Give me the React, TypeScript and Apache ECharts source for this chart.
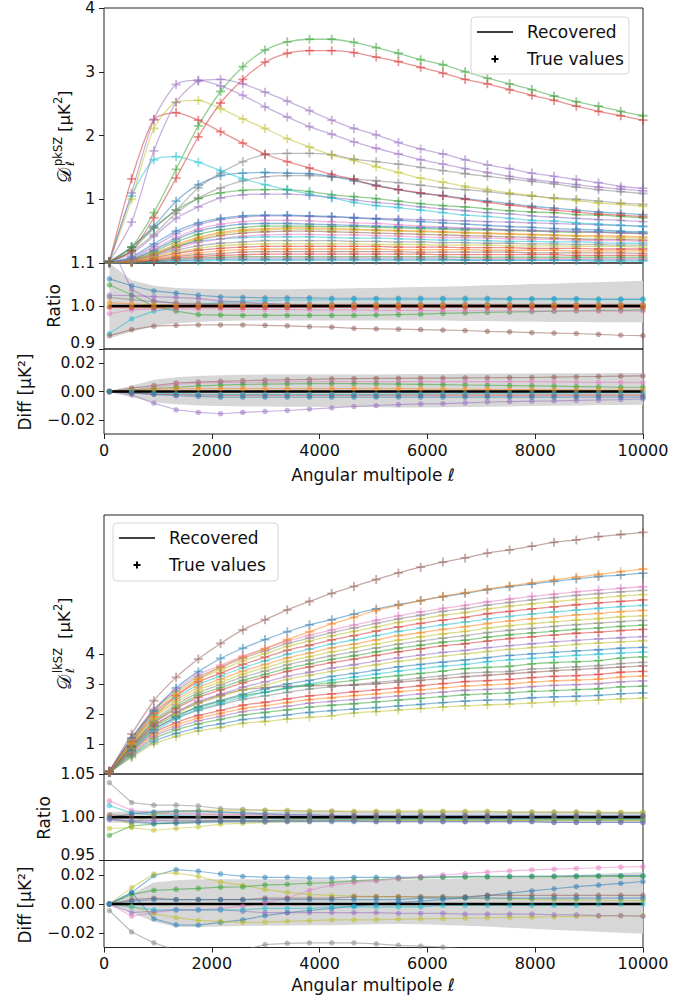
import React, { useEffect, useRef } from "react";
import * as echarts from "echarts";

// multipoles (x values shared by every series)
const ells = [100, 512.5, 925, 1337.5, 1750, 2162.5, 2575, 2987.5, 3400, 3812.5, 4225, 4637.5, 5050, 5462.5, 5875, 6287.5, 6700, 7112.5, 7525, 7937.5, 8350, 8762.5, 9175, 9587.5, 10000];

// ---------- top figure : patchy kSZ ----------
const tmGreenA = [0.02,0.25,0.79,1.47,2.15,2.69,3.08,3.34,3.47,3.51,3.51,3.46,3.38,3.29,3.19,3.11,3.00,2.90,2.81,2.72,2.62,2.53,2.46,2.38,2.31];
const tmRedA = [0.02,0.19,0.71,1.33,1.98,2.51,2.88,3.15,3.29,3.33,3.33,3.30,3.23,3.16,3.07,2.98,2.88,2.81,2.72,2.63,2.55,2.46,2.38,2.31,2.24];
const tmPurpleA = [0.02,0.64,1.76,2.52,2.85,2.88,2.81,2.68,2.54,2.39,2.24,2.11,2.01,1.89,1.79,1.71,1.62,1.54,1.48,1.41,1.36,1.31,1.26,1.20,1.17];
const tmPurpleB = [0.02,1.10,2.25,2.80,2.87,2.78,2.63,2.45,2.29,2.14,2.02,1.90,1.80,1.71,1.62,1.55,1.48,1.42,1.36,1.31,1.27,1.23,1.19,1.16,1.13];
const tmOliveA = [0.02,1.00,2.11,2.52,2.55,2.42,2.26,2.11,1.95,1.82,1.69,1.61,1.51,1.42,1.33,1.27,1.20,1.15,1.10,1.06,1.01,0.98,0.94,0.92,0.89];
const tmRedB = [0.02,1.32,2.25,2.36,2.24,2.06,1.88,1.71,1.59,1.49,1.39,1.31,1.21,1.15,1.10,1.05,1.00,0.95,0.91,0.87,0.83,0.80,0.77,0.75,0.73];
const tmCyanA = [0.02,1.05,1.62,1.67,1.58,1.45,1.32,1.23,1.15,1.08,1.02,0.95,0.90,0.87,0.83,0.79,0.75,0.73,0.70,0.67,0.66,0.63,0.61,0.59,0.57];
const tmGrayA = [0.02,0.25,0.55,0.83,1.18,1.41,1.59,1.70,1.72,1.72,1.70,1.63,1.59,1.55,1.50,1.45,1.40,1.36,1.32,1.28,1.24,1.19,1.15,1.12,1.09];
const tmBlueA = [0.02,0.25,0.58,0.97,1.23,1.37,1.41,1.42,1.41,1.40,1.36,1.29,1.22,1.15,1.09,1.06,1.01,0.97,0.93,0.89,0.86,0.83,0.80,0.78,0.76];
const tmGrayB = [0.02,0.18,0.45,0.78,1.02,1.18,1.29,1.35,1.37,1.37,1.35,1.32,1.29,1.26,1.22,1.18,1.15,1.12,1.08,1.05,1.02,1.00,0.97,0.94,0.92];
const tmGreenB = [0.02,0.20,0.55,0.83,1.01,1.10,1.14,1.15,1.15,1.12,1.07,1.04,1.01,0.97,0.93,0.90,0.88,0.85,0.82,0.80,0.79,0.76,0.75,0.73,0.71];
const tmPurpleC = [0.02,0.15,0.42,0.70,0.88,1.02,1.07,1.08,1.08,1.06,1.03,0.99,0.95,0.92,0.88,0.85,0.82,0.79,0.77,0.74,0.72,0.70,0.68,0.67,0.65];
const tmBlueB = [0.01,0.10,0.30,0.50,0.63,0.70,0.74,0.75,0.75,0.74,0.73,0.71,0.69,0.67,0.65,0.63,0.61,0.59,0.57,0.56,0.54,0.53,0.52,0.50,0.49];
const tmPurpleD = [0.01,0.08,0.26,0.46,0.60,0.68,0.72,0.74,0.74,0.73,0.72,0.71,0.70,0.69,0.68,0.67,0.66,0.65,0.64,0.63,0.62,0.61,0.60,0.59,0.58];
const tmPinkA = [0.01,0.07,0.22,0.40,0.53,0.61,0.65,0.67,0.67,0.66,0.65,0.63,0.62,0.60,0.58,0.57,0.55,0.54,0.52,0.51,0.50,0.49,0.48,0.47,0.46];
const tmBlueC = [0.01,0.06,0.20,0.37,0.50,0.57,0.61,0.62,0.62,0.61,0.60,0.59,0.58,0.57,0.56,0.55,0.54,0.53,0.52,0.51,0.50,0.50,0.49,0.48,0.47];
const tmGreenC = [0.01,0.06,0.18,0.33,0.45,0.52,0.56,0.58,0.58,0.58,0.57,0.57,0.56,0.55,0.54,0.53,0.52,0.52,0.51,0.50,0.49,0.48,0.48,0.47,0.46];
const tmOrangeA = [0.01,0.05,0.15,0.29,0.40,0.48,0.52,0.54,0.55,0.55,0.54,0.53,0.52,0.51,0.50,0.49,0.48,0.47,0.46,0.45,0.44,0.43,0.43,0.42,0.41];
const tmOliveB = [0.01,0.05,0.14,0.27,0.38,0.46,0.50,0.52,0.53,0.53,0.52,0.52,0.51,0.50,0.49,0.48,0.47,0.46,0.45,0.44,0.43,0.42,0.41,0.40,0.39];
const tmBrownA = [0.01,0.04,0.13,0.25,0.36,0.43,0.47,0.49,0.50,0.50,0.49,0.48,0.47,0.46,0.45,0.44,0.43,0.42,0.41,0.40,0.39,0.38,0.37,0.37,0.36];
const tmPinkB = [0.01,0.04,0.12,0.23,0.32,0.38,0.42,0.44,0.45,0.45,0.44,0.44,0.43,0.42,0.41,0.40,0.40,0.39,0.38,0.37,0.37,0.36,0.35,0.35,0.34];
const tmCyanB = [0.01,0.05,0.15,0.26,0.34,0.38,0.40,0.41,0.41,0.41,0.40,0.39,0.39,0.38,0.37,0.36,0.36,0.35,0.34,0.34,0.33,0.33,0.32,0.31,0.31];
const tmGrayC = [0.01,0.04,0.11,0.20,0.27,0.31,0.33,0.35,0.35,0.35,0.35,0.34,0.34,0.33,0.33,0.32,0.32,0.31,0.31,0.30,0.30,0.29,0.29,0.28,0.28];
const tmOliveC = [0.01,0.03,0.09,0.17,0.23,0.27,0.29,0.30,0.30,0.30,0.30,0.30,0.29,0.29,0.29,0.28,0.28,0.28,0.27,0.27,0.27,0.26,0.26,0.26,0.25];
const tmRedC = [0.01,0.03,0.08,0.15,0.20,0.23,0.25,0.26,0.26,0.26,0.26,0.26,0.26,0.25,0.25,0.25,0.24,0.24,0.24,0.23,0.23,0.23,0.22,0.22,0.22];
const tmOrangeB = [0.01,0.02,0.07,0.12,0.16,0.19,0.21,0.22,0.22,0.22,0.22,0.22,0.22,0.21,0.21,0.21,0.21,0.20,0.20,0.20,0.20,0.19,0.19,0.19,0.19];
const tmBrownB = [0.01,0.02,0.05,0.10,0.13,0.15,0.17,0.18,0.18,0.18,0.18,0.18,0.18,0.18,0.17,0.17,0.17,0.17,0.17,0.16,0.16,0.16,0.16,0.16,0.15];
const tmRedD = [0.01,0.02,0.04,0.08,0.10,0.12,0.13,0.14,0.14,0.14,0.14,0.14,0.14,0.14,0.14,0.13,0.13,0.13,0.13,0.13,0.13,0.12,0.12,0.12,0.12];
const tmGreenD = [0.00,0.01,0.03,0.06,0.08,0.09,0.10,0.10,0.10,0.10,0.10,0.10,0.10,0.10,0.10,0.10,0.09,0.09,0.09,0.09,0.09,0.09,0.09,0.09,0.09];
const tmPinkC = [0.00,0.01,0.03,0.05,0.07,0.08,0.08,0.08,0.08,0.08,0.08,0.08,0.08,0.08,0.08,0.08,0.08,0.07,0.07,0.07,0.07,0.07,0.07,0.07,0.07];
const tmBlueD = [0.00,0.01,0.02,0.04,0.05,0.06,0.06,0.06,0.06,0.06,0.06,0.06,0.06,0.06,0.06,0.06,0.05,0.05,0.05,0.05,0.05,0.05,0.05,0.05,0.05];
const tmCyanC = [0.00,0.01,0.02,0.03,0.03,0.04,0.04,0.04,0.04,0.04,0.04,0.04,0.04,0.04,0.04,0.04,0.04,0.04,0.04,0.04,0.04,0.04,0.03,0.03,0.03];

const trBand = {
  lo: [0.925,0.94,0.953,0.96,0.963,0.965,0.966,0.966,0.966,0.966,0.966,0.966,0.966,0.966,0.966,0.966,0.965,0.965,0.964,0.964,0.963,0.963,0.962,0.962,0.962],
  hi: [1.10,1.06,1.047,1.042,1.040,1.039,1.039,1.039,1.039,1.040,1.040,1.041,1.042,1.043,1.044,1.045,1.046,1.048,1.049,1.051,1.052,1.054,1.055,1.057,1.059],
};
const trBlue = [1.063,1.047,1.035,1.030,1.025,1.021,1.020,1.019,1.019,1.019,1.018,1.018,1.018,1.018,1.018,1.018,1.018,1.018,1.017,1.017,1.017,1.017,1.016,1.016,1.016];
const trGreen = [1.049,1.026,0.999,0.988,0.980,0.979,0.978,0.978,0.978,0.978,0.978,0.978,0.979,0.980,0.981,0.983,0.984,0.985,0.986,0.987,0.988,0.989,0.990,0.990,0.991];
const trCyan = [0.936,0.970,0.988,0.995,1.003,1.008,1.011,1.013,1.014,1.014,1.015,1.015,1.015,1.015,1.015,1.015,1.015,1.015,1.015,1.015,1.015,1.015,1.015,1.015,1.015];
const trBrown = [0.931,0.945,0.953,0.955,0.956,0.956,0.956,0.955,0.954,0.952,0.951,0.948,0.947,0.946,0.945,0.944,0.943,0.941,0.940,0.938,0.937,0.936,0.934,0.932,0.931];
const trPink = [0.982,0.991,0.993,0.993,0.993,0.993,0.992,0.992,0.992,0.991,0.991,0.991,0.990,0.990,0.990,0.989,0.989,0.989,0.989,0.988,0.988,0.988,0.988,0.988,0.988];
const trPurpleA = [1.15,1.038,1.012,1.006,1.004,1.003,1.003,1.002,1.002,1.002,1.002,1.002,1.002,1.002,1.002,1.002,1.002,1.002,1.001,1.001,1.001,1.001,1.001,1.001,1.001];
const trPurpleB = [1.025,1.024,1.022,1.020,1.017,1.012,1.009,1.006,1.004,1.003,1.002,1.002,1.002,1.002,1.002,1.002,1.002,1.002,1.002,1.002,1.002,1.002,1.002,1.002,1.002];
const trGray = [1.02,1.015,1.010,1.007,1.006,1.005,1.005,1.005,1.004,1.004,1.004,1.004,1.004,1.004,1.004,1.004,1.004,1.004,1.004,1.004,1.004,1.004,1.004,1.004,1.004];
const trOrange = [1.008,1.005,1.003,1.002,1.002,1.002,1.002,1.002,1.002,1.002,1.002,1.002,1.002,1.002,1.002,1.002,1.002,1.002,1.002,1.002,1.002,1.002,1.002,1.002,1.002];
const trOlive = [1.0,0.998,0.997,0.998,0.998,0.999,0.999,0.999,0.999,0.999,0.999,0.999,0.999,0.999,0.999,0.999,0.999,0.999,0.999,0.999,0.999,0.999,0.999,0.999,0.999];
const trRed = [0.997,0.996,0.996,0.997,0.997,0.997,0.997,0.997,0.997,0.997,0.997,0.997,0.997,0.997,0.997,0.997,0.997,0.997,0.997,0.997,0.997,0.997,0.997,0.997,0.997];

const tdBand = {
  lo: [-0.0005,-0.004,-0.0075,-0.009,-0.0099,-0.0103,-0.0105,-0.0106,-0.0107,-0.0108,-0.011,-0.011,-0.0112,-0.0113,-0.0113,-0.0112,-0.011,-0.0108,-0.0105,-0.0102,-0.010,-0.0098,-0.0096,-0.0095,-0.0094],
  hi: [0.0005,0.004,0.0083,0.010,0.011,0.0115,0.0118,0.012,0.012,0.012,0.012,0.012,0.012,0.0122,0.0123,0.0124,0.0125,0.0126,0.0127,0.0127,0.0128,0.0128,0.0129,0.013,0.013],
};
const tdPurple = [0,-0.0023,-0.0082,-0.0129,-0.0148,-0.0157,-0.0148,-0.0141,-0.0134,-0.0125,-0.0115,-0.0106,-0.0099,-0.0092,-0.0088,-0.0085,-0.008,-0.0074,-0.0071,-0.0068,-0.0066,-0.0063,-0.006,-0.0057,-0.0052];
const tdBrown = [0,0.0024,0.0042,0.006,0.0066,0.0072,0.0076,0.008,0.0083,0.0086,0.0089,0.0091,0.0092,0.0093,0.0094,0.0095,0.0096,0.0097,0.0098,0.0099,0.0102,0.0104,0.0106,0.0108,0.011];
const tdPink = [0,0.001,0.003,0.005,0.006,0.0062,0.0064,0.0066,0.0068,0.007,0.007,0.007,0.007,0.007,0.007,0.007,0.007,0.007,0.007,0.007,0.0068,0.0066,0.0065,0.0064,0.0063];
const tdGreen = [0,0.001,0.002,0.003,0.004,0.0045,0.005,0.0052,0.0054,0.0055,0.0055,0.0055,0.0054,0.0052,0.005,0.0048,0.0046,0.0044,0.0042,0.004,0.0038,0.0035,0.0032,0.003,0.003];
const tdOrange = [0,0.001,0.0015,0.002,0.002,0.002,0.002,0.002,0.002,0.002,0.002,0.002,0.002,0.002,0.0018,0.0017,0.0016,0.0015,0.0014,0.0013,0.0012,0.0011,0.001,0.001,0.001];
const tdRed = [0,-0.001,-0.0018,-0.0022,-0.0024,-0.0025,-0.0025,-0.0025,-0.0025,-0.0025,-0.0025,-0.0025,-0.0025,-0.0025,-0.0025,-0.0025,-0.0025,-0.0025,-0.0025,-0.0025,-0.0025,-0.0025,-0.0025,-0.0025,-0.0025];
const tdCyan = [0,0,-0.001,-0.0015,-0.0018,-0.002,-0.002,-0.002,-0.002,-0.002,-0.002,-0.002,-0.002,-0.0018,-0.0017,-0.0016,-0.0015,-0.0014,-0.0013,-0.0012,-0.0012,-0.0011,-0.001,-0.001,-0.001];
const tdBlue = [0,-0.001,-0.002,-0.003,-0.0035,-0.004,-0.004,-0.004,-0.004,-0.004,-0.004,-0.004,-0.004,-0.004,-0.004,-0.004,-0.004,-0.004,-0.004,-0.004,-0.004,-0.004,-0.004,-0.004,-0.004];

// ---------- bottom figure : late-time kSZ ----------
const bmBrown = [0.09,1.33,2.44,3.22,3.83,4.35,4.80,5.14,5.47,5.75,6.02,6.25,6.48,6.70,6.89,7.06,7.20,7.36,7.47,7.59,7.72,7.80,7.91,7.98,8.05];
const bmOrange = [0.06,1.05,1.90,2.60,3.15,3.56,3.89,4.17,4.48,4.74,5.00,5.22,5.45,5.62,5.78,5.92,6.04,6.16,6.27,6.37,6.47,6.56,6.65,6.74,6.83];
const bmBlue = [0.07,1.20,2.10,2.87,3.41,3.85,4.19,4.48,4.74,4.97,5.14,5.33,5.50,5.64,5.78,5.91,6.02,6.14,6.24,6.33,6.42,6.50,6.58,6.63,6.69];
const bmPink = [0.09,1.19,2.18,2.81,3.31,3.62,3.93,4.18,4.43,4.62,4.80,4.96,5.12,5.27,5.40,5.52,5.62,5.74,5.83,5.92,5.99,6.07,6.13,6.19,6.24];
const bmGray = [0.09,1.16,2.14,2.75,3.24,3.55,3.86,4.10,4.35,4.53,4.71,4.87,5.02,5.17,5.29,5.42,5.51,5.63,5.72,5.80,5.88,5.95,6.01,6.07,6.12];
const bmOlive = [0.09,1.14,2.09,2.69,3.17,3.47,3.77,4.01,4.25,4.43,4.60,4.75,4.90,5.05,5.17,5.29,5.38,5.50,5.59,5.67,5.74,5.81,5.87,5.93,5.98];
const bmRed = [0.09,1.10,2.03,2.61,3.07,3.36,3.65,3.89,4.12,4.29,4.47,4.61,4.76,4.90,5.02,5.13,5.22,5.34,5.42,5.50,5.57,5.64,5.70,5.75,5.80];
const bmCyan = [0.08,1.07,1.97,2.53,2.98,3.26,3.54,3.77,3.99,4.16,4.33,4.47,4.61,4.75,4.86,4.97,5.06,5.17,5.25,5.33,5.40,5.46,5.52,5.58,5.62];
const bmOrangeB = [0.08,1.04,1.91,2.45,2.89,3.16,3.43,3.65,3.87,4.03,4.20,4.33,4.47,4.61,4.71,4.82,4.91,5.01,5.10,5.17,5.23,5.30,5.35,5.41,5.45];
const bmOliveB = [0.08,1.00,1.85,2.38,2.80,3.06,3.33,3.54,3.75,3.91,4.07,4.20,4.33,4.46,4.57,4.67,4.75,4.86,4.94,5.01,5.07,5.13,5.18,5.24,5.28];
const bmGrayB = [0.08,0.97,1.79,2.30,2.71,2.97,3.23,3.43,3.64,3.79,3.94,4.07,4.20,4.33,4.43,4.53,4.61,4.71,4.79,4.85,4.92,4.98,5.03,5.08,5.12];
const bmGreen = [0.07,0.94,1.74,2.23,2.63,2.88,3.12,3.32,3.52,3.67,3.82,3.94,4.07,4.19,4.29,4.39,4.46,4.56,4.64,4.70,4.76,4.82,4.87,4.92,4.96];
const bmRedB = [0.07,0.92,1.69,2.17,2.55,2.80,3.04,3.23,3.42,3.57,3.71,3.83,3.95,4.07,4.17,4.27,4.34,4.43,4.51,4.57,4.63,4.69,4.73,4.78,4.82];
const bmPurple = [0.07,0.87,1.60,2.06,2.43,2.66,2.89,3.07,3.25,3.39,3.53,3.64,3.76,3.87,3.96,4.05,4.12,4.21,4.28,4.34,4.40,4.45,4.50,4.54,4.58];
const bmOliveC = [0.07,0.84,1.55,2.00,2.35,2.58,2.80,2.97,3.15,3.29,3.42,3.53,3.64,3.75,3.84,3.93,4.00,4.08,4.15,4.21,4.26,4.32,4.36,4.40,4.44];
const bmBlueB = [0.06,0.80,1.48,1.90,2.24,2.45,2.66,2.83,3.00,3.12,3.25,3.35,3.46,3.57,3.65,3.73,3.80,3.88,3.95,4.00,4.05,4.10,4.14,4.19,4.22];
const bmCyanB = [0.06,0.77,1.42,1.83,2.15,2.35,2.56,2.72,2.88,3.00,3.13,3.23,3.33,3.43,3.51,3.59,3.65,3.74,3.80,3.85,3.90,3.95,3.99,4.03,4.06];
const bmGreenB = [0.08,0.86,1.56,1.95,2.22,2.42,2.61,2.73,2.85,2.96,3.04,3.12,3.20,3.28,3.35,3.43,3.51,3.55,3.59,3.67,3.71,3.74,3.78,3.86,3.90];
const bmGrayC = [0.07,0.82,1.49,1.86,2.12,2.31,2.49,2.60,2.72,2.83,2.90,2.98,3.05,3.12,3.20,3.27,3.35,3.39,3.42,3.50,3.53,3.57,3.61,3.68,3.72];
const bmBrownB = [0.07,0.90,1.62,2.05,2.38,2.62,2.80,2.88,2.92,2.94,2.95,2.96,3.00,3.06,3.12,3.18,3.24,3.29,3.34,3.39,3.44,3.48,3.52,3.56,3.60];
const bmRedC = [0.07,0.75,1.37,1.71,1.95,2.12,2.29,2.39,2.50,2.60,2.67,2.74,2.80,2.87,2.94,3.01,3.08,3.11,3.15,3.21,3.25,3.28,3.32,3.39,3.42];
const bmOrangeC = [0.07,0.72,1.30,1.63,1.86,2.02,2.18,2.28,2.38,2.48,2.54,2.61,2.67,2.74,2.80,2.87,2.93,2.97,3.00,3.06,3.10,3.13,3.16,3.23,3.26];
const bmPurpleB = [0.06,0.68,1.24,1.55,1.77,1.92,2.08,2.17,2.26,2.36,2.42,2.48,2.54,2.60,2.67,2.73,2.79,2.82,2.85,2.91,2.95,2.98,3.01,3.07,3.10];
const bmGreenC = [0.06,0.64,1.17,1.47,1.67,1.82,1.96,2.05,2.14,2.23,2.29,2.34,2.40,2.46,2.52,2.58,2.64,2.67,2.70,2.75,2.78,2.81,2.84,2.90,2.93];
const bmBlueC = [0.05,0.59,1.08,1.35,1.54,1.67,1.81,1.89,1.97,2.05,2.11,2.16,2.21,2.27,2.32,2.38,2.43,2.46,2.48,2.54,2.57,2.59,2.62,2.67,2.70];
const bmOliveLow = [0.05,0.55,1.00,1.25,1.44,1.55,1.69,1.75,1.83,1.89,1.94,2.03,2.08,2.13,2.18,2.23,2.27,2.30,2.33,2.36,2.40,2.43,2.46,2.50,2.53];

const brBand = {
  lo: [0.994,0.993,0.992,0.992,0.993,0.993,0.994,0.994,0.995,0.995,0.995,0.995,0.995,0.995,0.995,0.995,0.995,0.995,0.995,0.995,0.995,0.995,0.995,0.995,0.995],
  hi: [1.006,1.007,1.008,1.008,1.008,1.007,1.007,1.006,1.006,1.006,1.006,1.005,1.005,1.005,1.005,1.005,1.005,1.005,1.005,1.005,1.005,1.005,1.005,1.005,1.005],
};
const brGray = [1.040,1.017,1.014,1.014,1.013,1.010,1.009,1.008,1.007,1.007,1.007,1.006,1.006,1.006,1.006,1.006,1.006,1.006,1.006,1.006,1.006,1.006,1.005,1.005,1.005];
const brPink = [1.019,1.008,1.005,1.004,1.004,1.003,1.003,1.003,1.002,1.002,1.002,1.002,1.002,1.001,1.001,1.001,1.001,1.001,1.001,1.001,1.001,1.001,1.001,1.001,1.001];
const brCyan = [1.0135,1.005,1.003,1.002,1.001,1.0,0.999,0.999,0.999,0.999,0.998,0.998,0.998,0.998,0.998,0.998,0.998,0.998,0.998,0.998,0.998,0.998,0.998,0.998,0.998];
const brGreen = [0.979,0.990,0.992,0.994,0.995,0.996,0.996,0.996,0.997,0.997,0.997,0.997,0.997,0.997,0.997,0.997,0.997,0.997,0.997,0.997,0.997,0.997,0.997,0.997,0.997];
const brOlive = [0.987,0.988,0.985,0.987,0.989,0.992,0.993,0.994,0.995,0.995,0.996,0.996,0.996,0.996,0.996,0.996,0.996,0.996,0.996,0.996,0.996,0.996,0.996,0.996,0.996];
const brOliveB = [1.0,0.992,1.004,1.007,1.008,1.008,1.008,1.008,1.008,1.007,1.007,1.007,1.007,1.007,1.007,1.007,1.007,1.007,1.006,1.006,1.006,1.006,1.006,1.006,1.006];
const brBlue = [1.0,1.004,1.006,1.007,1.007,1.006,1.005,1.004,1.003,1.003,1.002,1.002,1.002,1.002,1.002,1.002,1.002,1.002,1.002,1.002,1.002,1.002,1.002,1.002,1.002];
const brBlueB = [0.998,0.995,0.993,0.993,0.994,0.995,0.995,0.995,0.995,0.995,0.995,0.995,0.995,0.995,0.995,0.995,0.995,0.995,0.995,0.995,0.994,0.994,0.994,0.994,0.994];
const brPurple = [0.997,0.996,0.996,0.996,0.996,0.996,0.996,0.996,0.996,0.996,0.996,0.996,0.995,0.995,0.995,0.995,0.995,0.995,0.995,0.995,0.994,0.994,0.994,0.994,0.994];
const brBrown = [1.003,1.001,1.0,1.0,1.001,1.001,1.001,1.001,1.001,1.001,1.001,1.001,1.001,1.001,1.001,1.001,1.001,1.001,1.001,1.001,1.001,1.001,1.001,1.001,1.001];

const bdBand = {
  lo: [-0.0005,-0.006,-0.0123,-0.0158,-0.0158,-0.0155,-0.0152,-0.015,-0.0148,-0.0147,-0.0146,-0.0143,-0.0139,-0.0138,-0.014,-0.0145,-0.015,-0.0156,-0.0163,-0.017,-0.0177,-0.0184,-0.0191,-0.0198,-0.0205],
  hi: [0.0005,0.007,0.0148,0.0164,0.017,0.0171,0.0171,0.0171,0.0171,0.0171,0.017,0.0167,0.0167,0.0168,0.017,0.0173,0.0177,0.0181,0.0186,0.019,0.0195,0.0201,0.0207,0.0213,0.0219],
};
const bdBlueA = [0,0.0077,0.0195,0.0237,0.0226,0.0207,0.019,0.0184,0.0184,0.0179,0.0179,0.0184,0.0184,0.0184,0.0186,0.0188,0.019,0.019,0.019,0.0192,0.0193,0.0194,0.0195,0.0196,0.0196];
const bdOlive = [0,0.0113,0.0207,0.0214,0.019,0.0152,0.0129,0.0101,0.008,0.0066,0.006,0.0055,0.0052,0.005,0.0048,0.0045,0.0042,0.0038,0.0035,0.0032,0.003,0.0028,0.0026,0.0024,0.0023];
const bdGreen = [0,0.0066,0.0094,0.0101,0.0108,0.0116,0.0118,0.0132,0.0136,0.0143,0.0148,0.016,0.0168,0.0175,0.018,0.0184,0.0186,0.0187,0.0188,0.0188,0.0189,0.0189,0.019,0.019,0.019];
const bdPink = [0,-0.0083,-0.006,-0.004,-0.004,-0.003,-0.0015,0.001,0.004,0.0095,0.013,0.0148,0.016,0.0175,0.0188,0.02,0.021,0.022,0.0228,0.0235,0.024,0.0245,0.025,0.0255,0.0258];
const bdGray = [-0.0045,-0.0193,-0.0268,-0.032,-0.034,-0.034,-0.032,-0.028,-0.0271,-0.0268,-0.0268,-0.0268,-0.0275,-0.0285,-0.029,-0.0298,-0.031,-0.032,-0.033,-0.034,-0.035,-0.036,-0.037,-0.038,-0.039];
const bdBlueB = [0,0.008,-0.0103,-0.0144,-0.0146,-0.0127,-0.011,-0.008,-0.006,-0.0045,-0.003,-0.0015,0,0.001,0.002,0.003,0.0045,0.006,0.0075,0.009,0.0105,0.012,0.013,0.0142,0.0155];
const bdOliveB = [0,-0.0016,-0.0066,-0.0094,-0.0113,-0.012,-0.0127,-0.0125,-0.012,-0.0115,-0.011,-0.011,-0.0108,-0.0105,-0.0102,-0.01,-0.0098,-0.0095,-0.0092,-0.009,-0.0088,-0.0085,-0.0083,-0.0081,-0.008];
const bdPurple = [0,-0.006,-0.005,-0.004,-0.004,-0.004,-0.005,-0.006,-0.006,-0.006,-0.006,-0.006,-0.006,-0.0065,-0.0065,-0.0065,-0.007,-0.007,-0.007,-0.007,-0.0075,-0.0075,-0.008,-0.008,-0.0085];
const bdBrown = [0,0.003,0.004,0.003,0.003,0.003,0.003,0.004,0.004,0.004,0.004,0.005,0.005,0.005,0.005,0.005,0.005,0.006,0.006,0.006,0.006,0.006,0.006,0.006,0.006];
const bdCyan = [0,-0.002,-0.004,-0.004,-0.004,-0.004,-0.004,-0.003,-0.003,-0.003,-0.002,-0.002,-0.002,-0.002,-0.002,-0.001,-0.001,-0.001,-0.001,-0.001,-0.001,-0.001,0,0,0];
const bdBlueC = [0,0.002,0.003,0.003,0.003,0.003,0.003,0.003,0.003,0.003,0.003,0.003,0.003,0.003,0.004,0.004,0.004,0.004,0.004,0.004,0.004,0.004,0.004,0.004,0.004];

const TAB: Record<string, string> = {
  blue: "#1f77b4", orange: "#ff7f0e", green: "#2ca02c", red: "#d62728", purple: "#9467bd",
  brown: "#8c564b", pink: "#e377c2", gray: "#7f7f7f", olive: "#bcbd22", cyan: "#17becf",
};

const topMain: [string, number[]][] = [
  ["cyan", tmCyanC], ["blue", tmBlueD], ["pink", tmPinkC], ["green", tmGreenD], ["red", tmRedD], ["brown", tmBrownB],
  ["orange", tmOrangeB], ["red", tmRedC], ["olive", tmOliveC], ["gray", tmGrayC], ["cyan", tmCyanB], ["pink", tmPinkB],
  ["brown", tmBrownA], ["olive", tmOliveB], ["orange", tmOrangeA], ["green", tmGreenC], ["blue", tmBlueC], ["pink", tmPinkA],
  ["purple", tmPurpleD], ["blue", tmBlueB], ["purple", tmPurpleC], ["green", tmGreenB], ["gray", tmGrayB], ["blue", tmBlueA],
  ["gray", tmGrayA], ["cyan", tmCyanA], ["red", tmRedB], ["olive", tmOliveA], ["purple", tmPurpleB], ["purple", tmPurpleA],
  ["red", tmRedA], ["green", tmGreenA],
];
const topRatio: [string, number[]][] = [
  ["blue", trBlue], ["green", trGreen], ["cyan", trCyan], ["brown", trBrown], ["pink", trPink], ["purple", trPurpleA],
  ["purple", trPurpleB], ["gray", trGray], ["orange", trOrange], ["olive", trOlive], ["red", trRed],
];
const topDiff: [string, number[]][] = [
  ["purple", tdPurple], ["brown", tdBrown], ["pink", tdPink], ["green", tdGreen], ["orange", tdOrange],
  ["red", tdRed], ["cyan", tdCyan], ["blue", tdBlue],
];
const botMain: [string, number[]][] = [
  ["olive", bmOliveLow], ["blue", bmBlueC], ["green", bmGreenC], ["purple", bmPurpleB], ["orange", bmOrangeC], ["red", bmRedC],
  ["brown", bmBrownB], ["gray", bmGrayC], ["green", bmGreenB], ["cyan", bmCyanB], ["blue", bmBlueB], ["olive", bmOliveC],
  ["purple", bmPurple], ["red", bmRedB], ["green", bmGreen], ["gray", bmGrayB], ["olive", bmOliveB], ["orange", bmOrangeB],
  ["cyan", bmCyan], ["red", bmRed], ["olive", bmOlive], ["gray", bmGray], ["pink", bmPink], ["blue", bmBlue],
  ["orange", bmOrange], ["brown", bmBrown],
];
const botRatio: [string, number[]][] = [
  ["gray", brGray], ["pink", brPink], ["cyan", brCyan], ["green", brGreen], ["olive", brOlive], ["olive", brOliveB],
  ["blue", brBlue], ["blue", brBlueB], ["purple", brPurple], ["brown", brBrown],
];
const botDiff: [string, number[]][] = [
  ["blue", bdBlueA], ["olive", bdOlive], ["green", bdGreen], ["pink", bdPink], ["gray", bdGray], ["blue", bdBlueB],
  ["olive", bdOliveB], ["purple", bdPurple], ["brown", bdBrown], ["cyan", bdCyan], ["blue", bdBlueC],
];

const PLUS = "path://M3.6,0H5.4V3.6H9V5.4H5.4V9H3.6V5.4H0V3.6H3.6Z";
const FONT = "'DejaVu Sans', 'Noto Sans', sans-serif";
const TXT = "#111";

function curve(g: number, vals: number[], colorName: string, main: boolean) {
  const color = TAB[colorName];
  return {
    type: "line", xAxisIndex: g, yAxisIndex: g,
    data: ells.map((l, i) => [l, vals[i]]),
    smooth: main ? 0.25 : false,
    symbol: main ? PLUS : "circle",
    symbolSize: main ? 9 : 5.5,
    showAllSymbol: true,
    lineStyle: { color, width: main ? 1.3 : 1.2, opacity: 0.5 },
    itemStyle: { color, opacity: 0.5 },
    silent: true,
  };
}
// uncertainty band drawn as one polygon through the axis scales
function band(g: number, b: { lo: number[]; hi: number[] }) {
  return {
    type: "custom", xAxisIndex: g, yAxisIndex: g, silent: true, clip: true,
    data: ells.map((l, i) => [l, b.lo[i], b.hi[i]]),
    encode: { x: 0, y: [1, 2] },
    renderItem: (params: any, api: any) => {
      if (params.dataIndex !== 0) return null;
      const up = ells.map((l, i) => api.coord([l, b.hi[i]]));
      const dn = ells.map((l, i) => api.coord([l, b.lo[i]])).reverse();
      return { type: "polygon", shape: { points: up.concat(dn) }, style: { fill: "#d7d7d7" } };
    },
  };
}
function refLine(g: number, v: number) {
  return { type: "line", xAxisIndex: g, yAxisIndex: g, symbol: "none", data: ells.map((l) => [l, v]),
    lineStyle: { color: "#000", width: 2.6 }, silent: true, z: 3 };
}
const diffFmt = (v: number) => (v < 0 ? "\u2212" + Math.abs(v).toFixed(2) : Math.abs(v).toFixed(2));

function yTitle(x: number, y: number, text: string) {
  return { type: "text", x, y, rotation: Math.PI / 2,
    style: { text, fontSize: 17, fontFamily: FONT, fill: TXT, align: "center", verticalAlign: "middle", textAlign: "center", textVerticalAlign: "middle" } };
}
function dLabel(x: number, yStart: number, sup: string) {
  const t = (tx: number, ty: number, text: string, fs: number) => ({
    type: "text", x: tx, y: ty,
    style: { text, fontSize: fs, fontFamily: FONT, fill: TXT, align: "left", verticalAlign: "middle", textAlign: "left", textVerticalAlign: "middle" },
  });
  return { type: "group", x, y: yStart, rotation: Math.PI / 2, children: [
    t(0, 0, "\u{1D49F}", 19), t(17, -6, sup, 11.5), t(17, 6, "\u2113", 11.5),
    t(51, 0, "[\u03BCK", 16.5), t(79, -6, "2", 11.5), t(86, 0, "]", 16.5),
  ] };
}
function legend(bx: number, by: number, bw: number, bh: number, lx: number, ly1: number, ly2: number, tx: number) {
  const txt = (y: number, text: string) => ({ type: "text", x: tx, y,
    style: { text, fontSize: 17, fontFamily: FONT, fill: TXT, align: "left", verticalAlign: "middle", textAlign: "left", textVerticalAlign: "middle" } });
  return [
    { type: "rect", shape: { x: bx, y: by, width: bw, height: bh, r: 4 }, style: { fill: "rgba(255,255,255,0.85)", stroke: "#d5d5d5", lineWidth: 1 }, z: 10 },
    { type: "line", shape: { x1: lx, y1: ly1, x2: lx + 36, y2: ly1 }, style: { stroke: "#000", lineWidth: 1.3 }, z: 11 },
    { type: "line", shape: { x1: lx + 14.5, y1: ly2, x2: lx + 21.5, y2: ly2 }, style: { stroke: "#000", lineWidth: 2 }, z: 11 },
    { type: "line", shape: { x1: lx + 18, y1: ly2 - 3.5, x2: lx + 18, y2: ly2 + 3.5 }, style: { stroke: "#000", lineWidth: 2 }, z: 11 },
    { ...txt(ly1, "Recovered"), z: 11 },
    { ...txt(ly2, "True values"), z: 11 },
  ];
}

export default function App() {
  const ref = useRef<HTMLDivElement>(null);
  useEffect(() => {
    if (!ref.current) return;
    const chart = echarts.init(ref.current, undefined, { renderer: "svg" });
    const grids = [
      { left: 104, top: 7, width: 539, height: 256 },
      { left: 104, top: 263, width: 539, height: 86 },
      { left: 104, top: 349, width: 539, height: 85 },
      { left: 104, top: 515, width: 539, height: 259 },
      { left: 104, top: 774, width: 539, height: 86.5 },
      { left: 104, top: 860.5, width: 539, height: 87 },
    ].map((g) => ({ ...g, show: true, borderColor: "#222", borderWidth: 1, backgroundColor: "transparent" }));
    const xAxis = grids.map((_, i) => {
      const bottom = i === 2 || i === 5;
      return {
        type: "value", gridIndex: i, min: 0, max: 10000, interval: 2000, position: "bottom",
        axisLine: { show: false, onZero: false }, splitLine: { show: false },
        axisTick: { show: bottom, length: 5, lineStyle: { color: "#222" } },
        axisLabel: { show: bottom, fontSize: 16, color: TXT, fontFamily: FONT, margin: 8, formatter: (v: number) => String(v) },
      };
    });
    const yBase = { axisLine: { show: false, onZero: false }, splitLine: { show: false }, axisTick: { length: 5, lineStyle: { color: "#222" } } };
    const lbl = { fontSize: 15.5, lineHeight: 12, color: TXT, fontFamily: FONT, margin: 9 };
    const yAxis = [
      { ...yBase, type: "value", gridIndex: 0, min: 0, max: 4, axisTick: { ...yBase.axisTick, customValues: [1, 2, 3, 4] }, axisLabel: { ...lbl, customValues: [1, 2, 3, 4] } },
      { ...yBase, type: "value", gridIndex: 1, min: 0.9, max: 1.1, interval: 0.1, axisLabel: { ...lbl, verticalAlignMinLabel: "bottom", formatter: (v: number) => v.toFixed(1) } },
      { ...yBase, type: "value", gridIndex: 2, min: -0.03, max: 0.03, axisTick: { ...yBase.axisTick, customValues: [-0.02, 0, 0.02] }, axisLabel: { ...lbl, customValues: [-0.02, 0, 0.02], formatter: diffFmt } },
      { ...yBase, type: "value", gridIndex: 3, min: 0, max: 8.63, axisTick: { ...yBase.axisTick, customValues: [1, 2, 3, 4] }, axisLabel: { ...lbl, customValues: [1, 2, 3, 4] } },
      { ...yBase, type: "value", gridIndex: 4, min: 0.95, max: 1.05, interval: 0.05, axisLabel: { ...lbl, verticalAlignMinLabel: "bottom", formatter: (v: number) => v.toFixed(2) } },
      { ...yBase, type: "value", gridIndex: 5, min: -0.03, max: 0.03, axisTick: { ...yBase.axisTick, customValues: [-0.02, 0, 0.02] }, axisLabel: { ...lbl, customValues: [-0.02, 0, 0.02], formatter: diffFmt } },
    ];
    const series: any[] = [
      ...topMain.map(([c, v]) => curve(0, v, c, true)),
      band(1, trBand),
      ...topRatio.map(([c, v]) => curve(1, v, c, false)),
      refLine(1, 1),
      band(2, tdBand),
      ...topDiff.map(([c, v]) => curve(2, v, c, false)),
      refLine(2, 0),
      ...botMain.map(([c, v]) => curve(3, v, c, true)),
      band(4, brBand),
      ...botRatio.map(([c, v]) => curve(4, v, c, false)),
      refLine(4, 1),
      band(5, bdBand),
      ...botDiff.map(([c, v]) => curve(5, v, c, false)),
      refLine(5, 0),
    ];
    const xTitle = (y: number) => ({ type: "text", x: 373, y,
      style: { text: "Angular multipole \u2113", fontSize: 17, fontFamily: FONT, fill: TXT, align: "center", verticalAlign: "middle", textAlign: "center", textVerticalAlign: "middle" } });
    const graphic = [
      dLabel(64, 183, "pkSZ"),
      yTitle(54, 306, "Ratio"),
      yTitle(25, 392, "Diff [\u03BCK\u00B2]"),
      xTitle(475),
      ...legend(471, 17, 158, 57, 477, 32, 59, 527),
      dLabel(64, 690, "lkSZ"),
      yTitle(44, 818, "Ratio"),
      yTitle(25, 905, "Diff [\u03BCK\u00B2]"),
      xTitle(985),
      ...legend(113, 523, 165, 58, 119, 538, 565, 169),
    ];
    chart.setOption({
      animation: false,
      textStyle: { fontFamily: FONT },
      grid: grids, xAxis, yAxis, series, graphic,
    } as any);
    return () => chart.dispose();
  }, []);
  return <div ref={ref} style={{ position: "fixed", left: 0, top: 0, width: 697, height: 1001, background: "#fff" }} />;
}
